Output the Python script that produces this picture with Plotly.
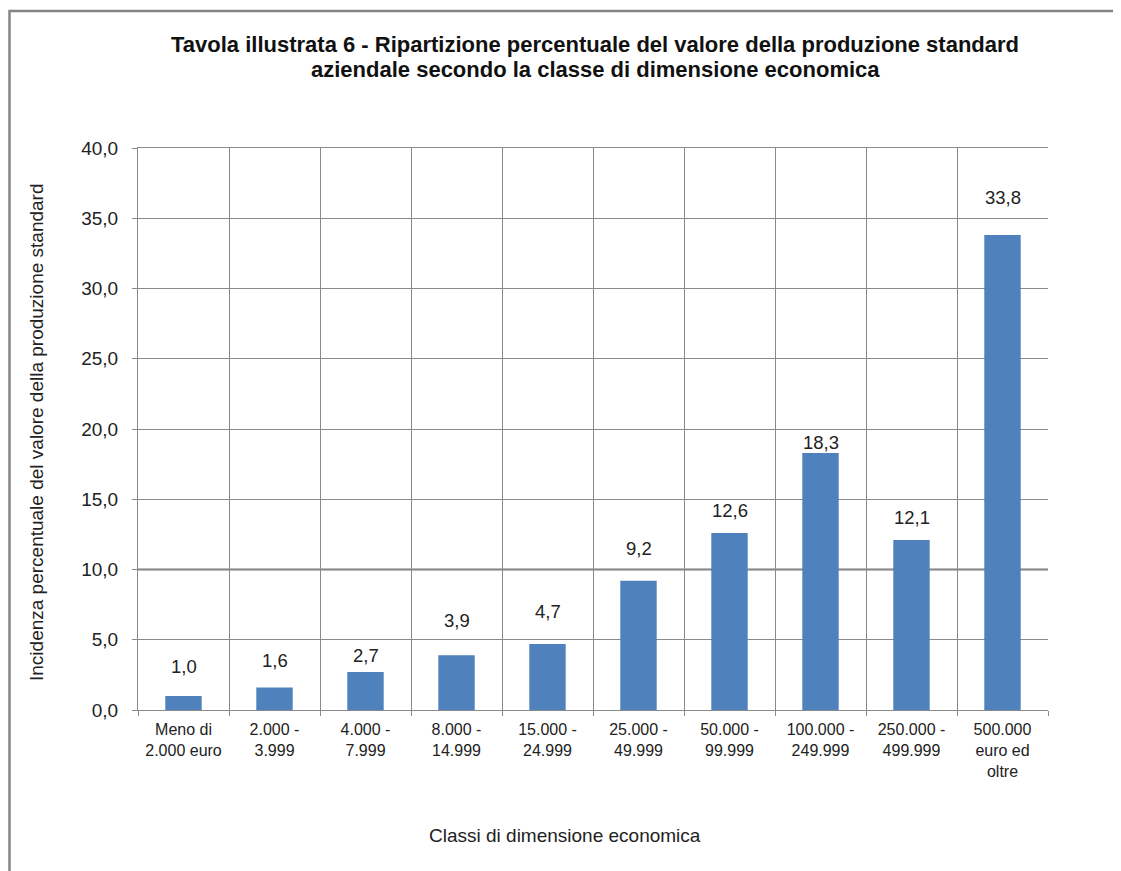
import plotly.graph_objects as go

categories = ["Meno di<br>2.000 euro", "2.000 -<br>3.999", "4.000 -<br>7.999", "8.000 -<br>14.999",
              "15.000 -<br>24.999", "25.000 -<br>49.999", "50.000 -<br>99.999", "100.000 -<br>249.999",
              "250.000 -<br>499.999", "500.000<br>euro ed<br>oltre"]
values = [1.0, 1.6, 2.7, 3.9, 4.7, 9.2, 12.6, 18.3, 12.1, 33.8]
y_ticks = [0, 5, 10, 15, 20, 25, 30, 35, 40]
# vertical offset (px) of each data label above its bar, as placed in the original
label_offsets = [29, 27, 17, 35, 32, 32, 22, 10, 23, 38]

OFF = 8  # page body margin
W, H = 1121 - OFF, 871 - OFF
L, R, T, B = 138 - OFF, 1048 - OFF, 148 - OFF, 710 - OFF
pw, ph = R - L, B - T

def px(x):  # page x -> paper
    return (x - OFF - L) / pw

def py(y):  # page y -> paper
    return (B - (y - OFF)) / ph

grid = "#8a8a8a"
font = "Liberation Sans, Arial, sans-serif"
tc = "#222222"

fig = go.Figure()
fig.add_trace(go.Bar(x=categories, y=values, width=0.4, marker=dict(color="#4F81BD", line=dict(width=0)),
                     hoverinfo="skip"))

for c, v, o in zip(categories, values, label_offsets):
    fig.add_annotation(x=c, y=v, xref="x", yref="y", text=f"{v:.1f}".replace(".", ","),
                       showarrow=False, yshift=o, yanchor="middle",
                       font=dict(size=18.5, color=tc, family=font))

fig.add_annotation(x=px(595), y=py(45), xref="paper", yref="paper",
                   text="<b>Tavola illustrata 6 - Ripartizione percentuale del valore della produzione standard</b>",
                   showarrow=False, font=dict(size=22, color="#111", family=font),
                   xanchor="center", yanchor="middle")
fig.add_annotation(x=px(595), y=py(70), xref="paper", yref="paper",
                   text="<b>aziendale secondo la classe di dimensione economica</b>",
                   showarrow=False, font=dict(size=22, color="#111", family=font),
                   xanchor="center", yanchor="middle")
fig.add_annotation(x=px(37), y=py(432), xref="paper", yref="paper",
                   text="Incidenza percentuale del valore della produzione standard",
                   textangle=-90, showarrow=False, font=dict(size=19, color=tc, family=font),
                   xanchor="center", yanchor="middle")
fig.add_annotation(x=px(565), y=py(835), xref="paper", yref="paper",
                   text="Classi di dimensione economica", showarrow=False,
                   font=dict(size=19, color=tc, family=font), xanchor="center", yanchor="middle")

# darker 10,0 line
fig.add_shape(type="line", xref="paper", yref="y", x0=0, x1=1, y0=10, y1=10,
              line=dict(color="#777", width=2), layer="below")
# outer frame
fig.add_shape(type="rect", xref="paper", yref="paper", x0=px(9.5), x1=px(1140), y0=py(890), y1=py(11),
              line=dict(color="#868686", width=2.5))

fig.update_layout(
    width=W, height=H, margin=dict(l=L, r=W - R, t=T, b=H - B, autoexpand=False),
    plot_bgcolor="white", paper_bgcolor="white", showlegend=False, separators=",.",
    font=dict(family=font, size=16, color=tc), bargap=0.6,
)
fig.update_xaxes(tickson="boundaries", showgrid=True, gridcolor=grid, gridwidth=1, ticks="outside",
                 ticklen=5, tickcolor=grid, showline=True, linecolor=grid, linewidth=1, mirror=True,
                 tickfont=dict(size=16, color=tc), range=[-0.5, 9.5], fixedrange=True,
                 ticklabelstandoff=5)
fig.update_yaxes(range=[0, 40], tickvals=y_ticks, tickformat=".1f", showgrid=True, gridcolor=grid,
                 gridwidth=1, ticks="outside", ticklen=5, tickcolor=grid, showline=True, linecolor=grid,
                 linewidth=1, zeroline=False, tickfont=dict(size=19, color=tc), fixedrange=True,
                 ticklabelstandoff=10)

fig.write_html("out.html")
